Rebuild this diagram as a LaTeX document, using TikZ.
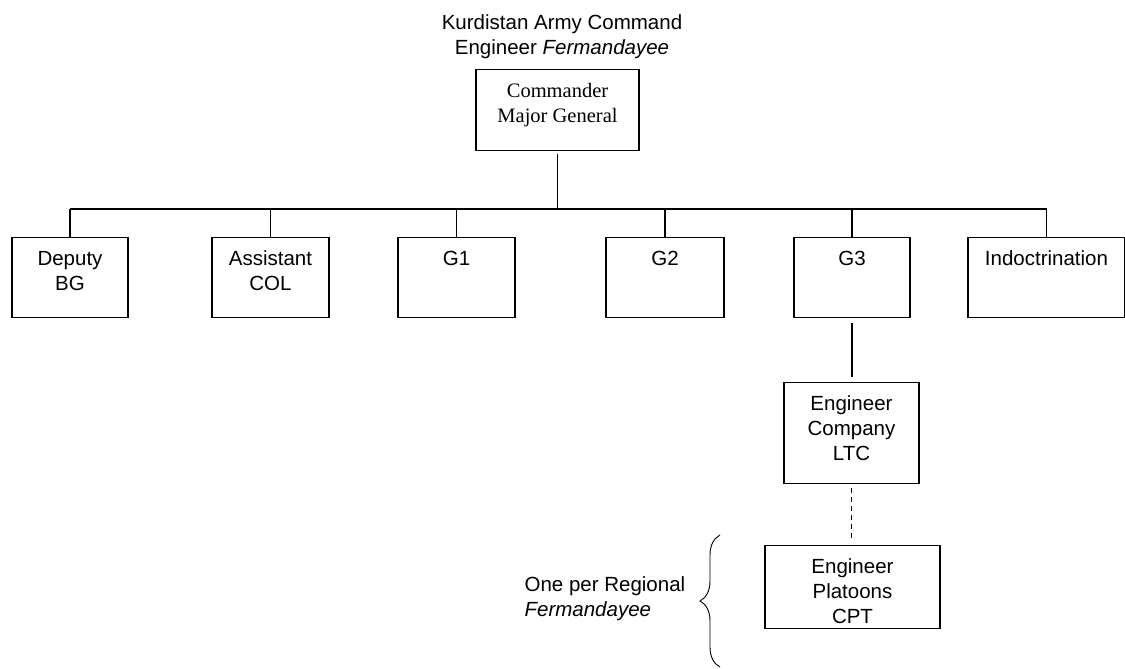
\documentclass[tikz,border=0pt]{standalone}
\usepackage{fontspec}
\setmainfont{Liberation Sans}
\newfontfamily\timesfont{Liberation Serif}
\usetikzlibrary{decorations.pathreplacing}

% text hangs from the top of a box of given width and height
\newcommand{\toplines}[3]{\parbox[t][#2][t]{#1}{\centering\rule{0pt}{28pt}#3}}

\begin{document}
\begin{tikzpicture}[x=1pt,y=-1pt,line width=1.2pt,
        every node/.style={font=\fontsize{20.5}{25}\selectfont},
        unit/.style={draw,rectangle,inner sep=0pt,anchor=north}]
      \useasboundingbox (0,0) rectangle (1125,669);
      \node[align=center,anchor=north,inner sep=0pt] (title) at (562,14.5)
        {Kurdistan Army Command\\Engineer \textit{Fermandayee}};
      \node[unit,font=\fontsize{20.5}{25}\selectfont\timesfont] (cmdr) at (557.5,69)
        {\toplines{163pt}{81pt}{Commander\\Major General}};
      \node[unit] (deputy) at (70,237) {\toplines{116pt}{80pt}{Deputy\\BG}};
      \node[unit] (assistant) at (270.5,237) {\toplines{117pt}{80pt}{Assistant\\COL}};
      \node[unit] (g1) at (456.5,237) {\toplines{117pt}{80pt}{G1}};
      \node[unit] (g2) at (665,237) {\toplines{118pt}{80pt}{G2}};
      \node[unit] (g3) at (852,237) {\toplines{116pt}{80pt}{G3}};
      \node[unit] (indoc) at (1046.5,237) {\toplines{157pt}{80pt}{Indoctrination}};
      \node[unit] (company) at (851.5,382) {\toplines{135pt}{101pt}{Engineer\\Company\\LTC}};
      \node[unit] (platoons) at (852.5,545) {\toplines{175pt}{83pt}{Engineer\\Platoons\\CPT}};
      \node[align=left,anchor=north west,inner sep=0pt] (region) at (524,576.5)
        {One per Regional\\\textit{Fermandayee}};
      \coordinate (bus) at (557.5,209);
      \draw[shorten <=3pt] (cmdr.south) -- (bus);
      \draw (deputy.north |- bus) -- (indoc.north |- bus);
      \foreach \u in {deputy,assistant,g1,g2,g3,indoc}
        \draw (\u.north |- bus) -- (\u.north);
      \draw[shorten <=5pt,shorten >=5pt] (g3.south) -- (g3.south |- company.north);
      \draw[line width=0.9pt,dash pattern=on 5pt off 4pt,shorten <=4pt,shorten >=7pt]
        (company.south) -- (company.south |- platoons.north);
      % brace for the platoons
      \draw[line width=0.9pt,decorate,decoration={brace,amplitude=20pt}]
        (720,667) -- (720,535);
    \end{tikzpicture}
\end{document}
